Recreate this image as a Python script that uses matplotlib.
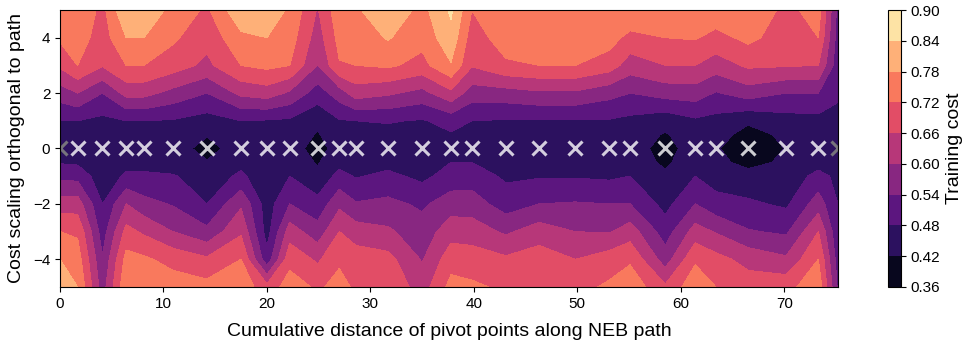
import numpy as np
import matplotlib
matplotlib.use("Agg")
import matplotlib.pyplot as plt

plt.rcParams["font.family"] = ["Liberation Sans", "DejaVu Sans"]

# pivot points along the NEB path (cumulative distance)
pivot_dist = [0.0, 1.7, 4.1, 6.4, 8.1, 10.9, 14.2, 17.5, 20.0, 22.2, 24.9,
              27.0, 28.6, 31.7, 35.0, 37.8, 39.8, 43.1, 46.3, 49.8, 53.1,
              55.1, 58.5, 61.4, 63.4, 66.5, 70.2, 73.3, 75.2]

# orthogonal cost scaling, top to bottom
scaling = [5, 4, 3, 2, 1, 0.5, 0, -0.5, -1, -2, -3, -4, -5]

# training cost, one row per pivot, values follow `scaling`
cost_by_pivot = [
    [0.78, 0.73, 0.67, 0.57, 0.48, 0.46, 0.44, 0.475, 0.525, 0.63, 0.72, 0.78, 0.83],
    [0.78, 0.75, 0.72, 0.60, 0.48, 0.46, 0.44, 0.47, 0.52, 0.63, 0.71, 0.75, 0.78],
    [0.70, 0.69, 0.665, 0.54, 0.465, 0.45, 0.44, 0.44, 0.445, 0.48, 0.51, 0.545, 0.57],
    [0.84, 0.78, 0.72, 0.62, 0.48, 0.46, 0.44, 0.46, 0.49, 0.60, 0.68, 0.74, 0.77],
    [0.83, 0.78, 0.72, 0.62, 0.48, 0.46, 0.44, 0.46, 0.49, 0.56, 0.65, 0.73, 0.76],
    [0.76, 0.73, 0.69, 0.58, 0.475, 0.455, 0.44, 0.45, 0.485, 0.535, 0.60, 0.70, 0.75],
    [0.71, 0.68, 0.645, 0.54, 0.455, 0.423, 0.405, 0.423, 0.45, 0.48, 0.555, 0.67, 0.74],
    [0.83, 0.765, 0.72, 0.615, 0.48, 0.46, 0.44, 0.465, 0.49, 0.59, 0.65, 0.72, 0.76],
    [0.82, 0.78, 0.735, 0.63, 0.475, 0.455, 0.44, 0.44, 0.445, 0.45, 0.455, 0.50, 0.68],
    [0.77, 0.75, 0.72, 0.59, 0.47, 0.455, 0.44, 0.455, 0.48, 0.54, 0.63, 0.70, 0.75],
    [0.655, 0.63, 0.598, 0.51, 0.435, 0.415, 0.402, 0.415, 0.435, 0.50, 0.565, 0.65, 0.71],
    [0.76, 0.74, 0.715, 0.57, 0.475, 0.455, 0.44, 0.46, 0.50, 0.585, 0.66, 0.71, 0.74],
    [0.77, 0.745, 0.72, 0.63, 0.48, 0.455, 0.44, 0.45, 0.475, 0.545, 0.63, 0.69, 0.71],
    [0.83, 0.785, 0.73, 0.61, 0.485, 0.46, 0.44, 0.46, 0.495, 0.555, 0.61, 0.68, 0.71],
    [0.76, 0.74, 0.70, 0.58, 0.475, 0.455, 0.44, 0.45, 0.465, 0.53, 0.565, 0.595, 0.63],
    [0.85, 0.82, 0.775, 0.645, 0.50, 0.475, 0.455, 0.48, 0.505, 0.57, 0.635, 0.695, 0.74],
    [0.72, 0.69, 0.665, 0.57, 0.48, 0.46, 0.445, 0.48, 0.51, 0.57, 0.63, 0.69, 0.73],
    [0.76, 0.75, 0.71, 0.575, 0.475, 0.455, 0.44, 0.45, 0.47, 0.51, 0.59, 0.67, 0.71],
    [0.77, 0.75, 0.72, 0.59, 0.475, 0.455, 0.44, 0.455, 0.475, 0.54, 0.63, 0.69, 0.72],
    [0.77, 0.75, 0.72, 0.59, 0.475, 0.455, 0.44, 0.455, 0.475, 0.545, 0.60, 0.66, 0.70],
    [0.77, 0.745, 0.69, 0.56, 0.475, 0.455, 0.44, 0.45, 0.47, 0.54, 0.595, 0.69, 0.73],
    [0.78, 0.70, 0.63, 0.54, 0.465, 0.45, 0.44, 0.45, 0.48, 0.54, 0.63, 0.71, 0.76],
    [0.77, 0.72, 0.66, 0.565, 0.44, 0.415, 0.404, 0.41, 0.43, 0.46, 0.51, 0.57, 0.67],
    [0.78, 0.725, 0.66, 0.57, 0.47, 0.45, 0.44, 0.455, 0.48, 0.54, 0.625, 0.71, 0.76],
    [0.76, 0.70, 0.63, 0.535, 0.46, 0.44, 0.425, 0.435, 0.455, 0.50, 0.595, 0.68, 0.72],
    [0.78, 0.735, 0.67, 0.57, 0.428, 0.402, 0.39, 0.403, 0.44, 0.49, 0.545, 0.64, 0.69],
    [0.70, 0.69, 0.665, 0.54, 0.455, 0.43, 0.422, 0.43, 0.44, 0.47, 0.53, 0.61, 0.70],
    [0.75, 0.72, 0.66, 0.54, 0.46, 0.45, 0.44, 0.455, 0.50, 0.57, 0.66, 0.72, 0.76],
    [0.52, 0.51, 0.50, 0.485, 0.47, 0.455, 0.45, 0.455, 0.465, 0.48, 0.49, 0.51, 0.53],
]

levels = [0.36, 0.42, 0.48, 0.54, 0.60, 0.66, 0.72, 0.78, 0.84, 0.90]

X, Y = np.meshgrid(pivot_dist, scaling)
Z = np.array(cost_by_pivot).T

fig = plt.figure(figsize=(9.69, 3.49), dpi=100)
ax = fig.add_axes([0.0619, 0.1777, 0.8029, 0.7936])
cax = fig.add_axes([0.9164, 0.1777, 0.0134, 0.7936])

cs = ax.contourf(X, Y, Z, levels=levels, cmap="magma")

# pivot points sit on the path itself (scaling 0); end points in grey
xs = np.array(pivot_dist)
ax.plot(xs[1:-1], np.zeros(len(xs) - 2), "x", color="white", alpha=0.8,
        markersize=10, mew=2.2, linestyle="none")
ax.plot(xs[[0, -1]], [0, 0], "x", color="grey", alpha=0.9,
        markersize=10, mew=2.2, linestyle="none")

ax.set_xlim(pivot_dist[0], pivot_dist[-1])
ax.set_ylim(-5, 5)
ax.set_xticks([0, 10, 20, 30, 40, 50, 60, 70])
ax.set_yticks([-4, -2, 0, 2, 4])
ax.tick_params(labelsize=11)
ax.set_xlabel("Cumulative distance of pivot points along NEB path", fontsize=14, labelpad=9)
ax.set_ylabel("Cost scaling orthogonal to path", fontsize=14, labelpad=6)

cb = fig.colorbar(cs, cax=cax, ticks=levels)
cb.ax.set_yticklabels([f"{v:.2f}" for v in levels])
cb.ax.tick_params(labelsize=11)
cb.set_label("Training cost", fontsize=14)

fig.savefig("out.png", dpi=100)
